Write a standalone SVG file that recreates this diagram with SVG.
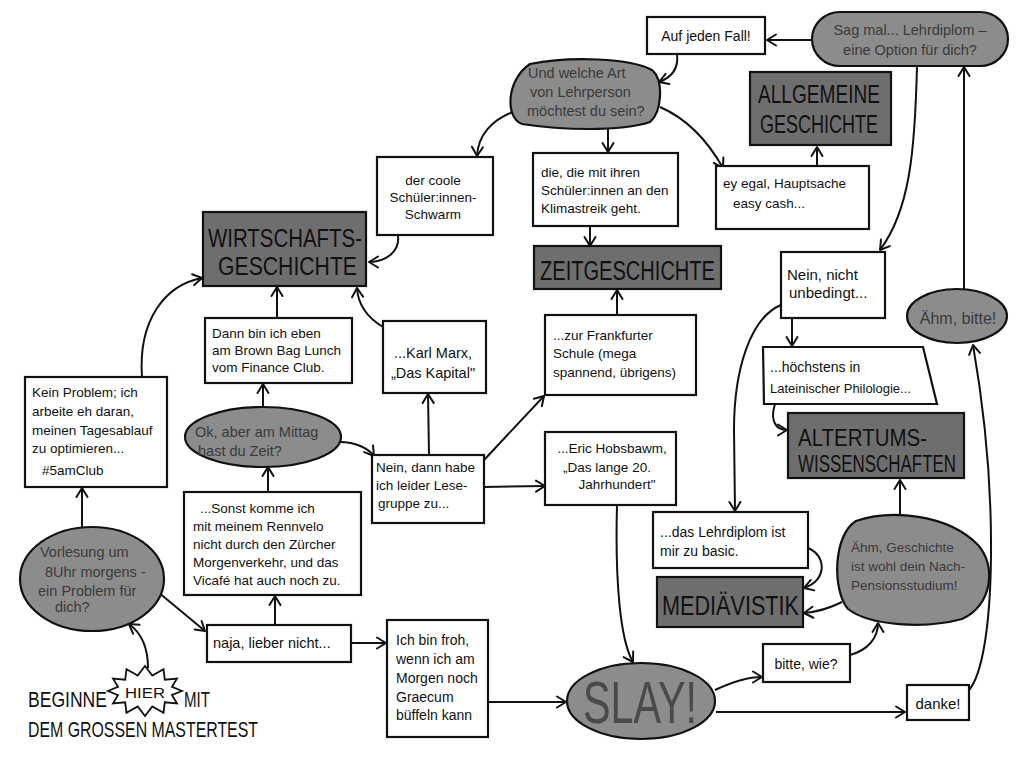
<svg xmlns="http://www.w3.org/2000/svg" width="1024" height="768" viewBox="0 0 1024 768">
<defs>
<marker id="arr" viewBox="-11 -7 13 14" refX="0" refY="0" markerWidth="13" markerHeight="14" markerUnits="userSpaceOnUse" orient="auto">
<path d="M-9,-5.5 L0,0 L-9,5.5" fill="none" stroke="#111" stroke-width="2" stroke-linecap="round" stroke-linejoin="round"/>
</marker>
<style>
.box{fill:#fff;stroke:#111;stroke-width:2.2}
.dark{fill:#6e6e6e;stroke:#111;stroke-width:2.2}
.blob{fill:#8c8c8c;stroke:#111;stroke-width:2.2}
.t{font-family:"Liberation Sans",Arial,sans-serif;font-size:13.5px;fill:#111}
.bt{font-family:"Liberation Sans",Arial,sans-serif;font-size:14.5px;fill:#3a3a3a}
.h{font-family:"Liberation Sans",Arial,sans-serif;fill:#111}
.c{text-anchor:middle}
.e{fill:none;stroke:#111;stroke-width:2;marker-end:url(#arr)}
</style>
</defs>
<rect width="1024" height="768" fill="#fff"/>

<g id="connectors">
<path class="e" d="M812,40 L767,40"/>
<path class="e" d="M677,54 C679,70 670,78 659,82"/>
<path class="e" d="M513,112 C492,120 478,135 477,156"/>
<path class="e" d="M608,128 L608,152"/>
<path class="e" d="M660,107 C690,120 710,145 723,168"/>
<path class="e" d="M817,166 L817,147"/>
<path class="e" d="M398,236 C400,252 385,262 369,262"/>
<path class="e" d="M590,226 L590,246"/>
<path class="e" d="M917,66 C915,150 910,210 880,250"/>
<path class="e" d="M792,318 L792,346"/>
<path class="e" d="M781,305 C750,318 734,370 734,430 L735,511"/>
<path class="e" d="M775,404 C770,420 775,430 787,430"/>
<path class="e" d="M900,515 L900,480"/>
<path class="e" d="M808,548 C826,555 828,580 804,588"/>
<path class="e" d="M842,602 C830,608 816,612 804,613"/>
<path class="e" d="M850,655 C868,650 878,638 878,623"/>
<path class="e" d="M715,690 C730,683 745,677 762,677"/>
<path class="e" d="M716,712 L905,712"/>
<path class="e" d="M969,690 C995,660 1000,500 973,345"/>
<path class="e" d="M964,290 L964,67"/>
<path class="e" d="M617,505 C615,580 620,640 633,662"/>
<path class="e" d="M617,315 L617,290"/>
<path class="e" d="M484,460 L544,396"/>
<path class="e" d="M484,487 L545,486"/>
<path class="e" d="M429,455 L428,394"/>
<path class="e" d="M383,327 C368,318 358,305 357,288"/>
<path class="e" d="M277,318 L277,287"/>
<path class="e" d="M263,407 L263,384"/>
<path class="e" d="M340,442 C355,442 368,448 374,456"/>
<path class="e" d="M268,492 L268,467"/>
<path class="e" d="M275,625 L275,596"/>
<path class="e" d="M351,643 L386,643"/>
<path class="e" d="M158,592 L205,631"/>
<path class="e" d="M82,527 L82,488"/>
<path class="e" d="M142,377 C138,320 165,285 202,278"/>
<path class="e" d="M488,702 L566,702"/>
<path class="e" d="M148,668 C148,645 140,632 129,624"/>
</g>

<g id="n-sagmal">
<rect class="blob" x="812" y="12" width="196" height="54" rx="28" ry="27"/>
<text class="bt c" x="910" y="35">Sag mal... Lehrdiplom –</text>
<text class="bt c" x="910" y="55">eine Option für dich?</text>
</g>
<g id="n-aufjeden">
<rect class="box" x="647" y="17" width="118" height="37"/>
<text class="t c" x="706" y="41" style="font-size:14px">Auf jeden Fall!</text>
</g>
<g id="n-undwelche">
<path class="blob" d="M530,64 C570,56 630,58 652,70 C664,80 662,112 650,122 C620,132 560,130 522,124 C505,118 506,80 530,64 Z"/>
<text class="bt" x="528" y="78">Und welche Art</text>
<text class="bt" x="530" y="97">von Lehrperson</text>
<text class="bt" x="527" y="116">möchtest du sein?</text>
</g>
<g id="n-allgemeine">
<rect class="dark" x="750" y="72" width="141" height="73"/>
<text class="h" x="758" y="103" style="font-size:25px" textLength="122" lengthAdjust="spacingAndGlyphs">ALLGEMEINE</text>
<text class="h" x="760" y="133" style="font-size:25px" textLength="118" lengthAdjust="spacingAndGlyphs">GESCHICHTE</text>
</g>
<g id="n-eyegal">
<rect class="box" x="716" y="166" width="153" height="63"/>
<text class="t" x="723" y="188">ey egal, Hauptsache</text>
<text class="t" x="733" y="208">easy cash...</text>
</g>
<g id="n-dercoole">
<rect class="box" x="377" y="157" width="116" height="78"/>
<text class="t c" x="433" y="185">der coole</text>
<text class="t c" x="433" y="202">Schüler:innen-</text>
<text class="t c" x="433" y="219">Schwarm</text>
</g>
<g id="n-diedie">
<rect class="box" x="533" y="153" width="145" height="73"/>
<text class="t" x="541" y="177">die, die mit ihren</text>
<text class="t" x="541" y="195">Schüler:innen an den</text>
<text class="t" x="541" y="213">Klimastreik geht.</text>
</g>
<g id="n-wirtschaft">
<rect class="dark" x="203" y="212" width="163" height="74"/>
<text class="h" x="208" y="247" style="font-size:25px" textLength="154" lengthAdjust="spacingAndGlyphs">WIRTSCHAFTS-</text>
<text class="h" x="218" y="275" style="font-size:25px" textLength="139" lengthAdjust="spacingAndGlyphs">GESCHICHTE</text>
</g>
<g id="n-zeit">
<rect class="dark" x="534" y="246" width="187" height="43"/>
<text class="h" x="540" y="280" style="font-size:27px" textLength="175" lengthAdjust="spacingAndGlyphs">ZEITGESCHICHTE</text>
</g>
<g id="n-neinnicht">
<rect class="box" x="781" y="252" width="104" height="66"/>
<text class="t" x="787" y="280" style="font-size:15px">Nein, nicht</text>
<text class="t" x="789" y="298" style="font-size:15px">unbedingt...</text>
</g>
<g id="n-aehmbitte">
<ellipse class="blob" cx="957" cy="316" rx="50" ry="27"/>
<text class="bt c" x="958" y="324" style="font-size:16px">Ähm, bitte!</text>
</g>
<g id="n-dannbin">
<rect class="box" x="205" y="318" width="147" height="65"/>
<text class="t" x="212" y="338">Dann bin ich eben</text>
<text class="t" x="212" y="355">am Brown Bag Lunch</text>
<text class="t" x="212" y="372">vom Finance Club.</text>
</g>
<g id="n-karlmarx">
<rect class="box" x="383" y="321" width="103" height="72"/>
<text class="t c" x="433" y="358" style="font-size:14.5px">...Karl Marx,</text>
<text class="t c" x="433" y="378" style="font-size:14.5px">„Das Kapital"</text>
</g>
<g id="n-frankfurt">
<rect class="box" x="545" y="315" width="151" height="80"/>
<text class="t" x="553" y="340">...zur Frankfurter</text>
<text class="t" x="553" y="358">Schule (mega</text>
<text class="t" x="553" y="377">spannend, übrigens)</text>
</g>
<g id="n-hoechstens">
<polygon class="box" points="763,347 923,347 937,404 764,404"/>
<text class="t" x="770" y="372" style="font-size:14px">...höchstens in</text>
<text class="t" x="770" y="393" style="font-size:13px">Lateinischer Philologie...</text>
</g>
<g id="n-keinproblem">
<rect class="box" x="25" y="377" width="142" height="110"/>
<text class="t" x="32" y="397">Kein Problem; ich</text>
<text class="t" x="32" y="416">arbeite eh daran,</text>
<text class="t" x="32" y="435">meinen Tagesablauf</text>
<text class="t" x="32" y="453">zu optimieren...</text>
<text class="t" x="42" y="475">#5amClub</text>
</g>
<g id="n-okaber">
<ellipse class="blob" cx="263" cy="437" rx="78" ry="30"/>
<text class="bt" x="195" y="437" style="font-size:14.5px">Ok, aber am Mittag</text>
<text class="bt" x="198" y="456" style="font-size:14.5px">hast du Zeit?</text>
</g>
<g id="n-altertum">
<rect class="dark" x="788" y="413" width="176" height="65"/>
<text class="h" x="798" y="446" style="font-size:23px" textLength="129" lengthAdjust="spacingAndGlyphs">ALTERTUMS-</text>
<text class="h" x="798" y="472" style="font-size:23px" textLength="158" lengthAdjust="spacingAndGlyphs">WISSENSCHAFTEN</text>
</g>
<g id="n-neindann">
<rect class="box" x="372" y="455" width="112" height="68"/>
<text class="t" x="376" y="472">Nein, dann habe</text>
<text class="t" x="376" y="490">ich leider Lese-</text>
<text class="t" x="378" y="508">gruppe zu...</text>
</g>
<g id="n-eric">
<rect class="box" x="545" y="432" width="131" height="73"/>
<text class="t c" x="612" y="453">...Eric Hobsbawm,</text>
<text class="t c" x="607" y="472">„Das lange 20.</text>
<text class="t c" x="617" y="489">Jahrhundert"</text>
</g>
<g id="n-sonst">
<rect class="box" x="184" y="492" width="177" height="103"/>
<text class="t" x="200" y="513">...Sonst komme ich</text>
<text class="t" x="193" y="531">mit meinem Rennvelo</text>
<text class="t" x="193" y="549">nicht durch den Zürcher</text>
<text class="t" x="193" y="567">Morgenverkehr, und das</text>
<text class="t" x="193" y="585">Vicafé hat auch noch zu.</text>
</g>
<g id="n-lehrdiplom">
<rect class="box" x="653" y="512" width="155" height="56"/>
<text class="t" x="660" y="537" style="font-size:14px">...das Lehrdiplom ist</text>
<text class="t" x="660" y="556" style="font-size:14px">mir zu basic.</text>
</g>
<g id="n-aehmgeschichte">
<path class="blob" d="M856,521 C890,509 948,514 978,545 C997,566 992,606 962,619 C925,629 870,626 848,609 C832,590 833,535 856,521 Z"/>
<text class="bt" x="851" y="552" style="font-size:13.5px">Ähm, Geschichte</text>
<text class="bt" x="851" y="571" style="font-size:13.5px">ist wohl dein Nach-</text>
<text class="bt" x="851" y="590" style="font-size:13.5px">Pensionsstudium!</text>
</g>
<g id="n-mediaevistik">
<rect class="dark" x="657" y="577" width="146" height="50"/>
<text class="h" x="662" y="615" style="font-size:28px" textLength="137" lengthAdjust="spacingAndGlyphs">MEDIÄVISTIK</text>
</g>
<g id="n-vorlesung">
<ellipse class="blob" cx="92" cy="579" rx="72" ry="52"/>
<text class="bt" x="40" y="557">Vorlesung um</text>
<text class="bt" x="45" y="577">8Uhr morgens -</text>
<text class="bt" x="38" y="596">ein Problem für</text>
<text class="bt" x="55" y="612">dich?</text>
</g>
<g id="n-naja">
<rect class="box" x="207" y="625" width="144" height="37"/>
<text class="t" x="213" y="648" style="font-size:14.5px">naja, lieber nicht...</text>
</g>
<g id="n-froh">
<rect class="box" x="387" y="620" width="101" height="117"/>
<text class="t" x="396" y="645" style="font-size:14px">Ich bin froh,</text>
<text class="t" x="396" y="664" style="font-size:14px">wenn ich am</text>
<text class="t" x="396" y="683" style="font-size:14px">Morgen noch</text>
<text class="t" x="396" y="702" style="font-size:14px">Graecum</text>
<text class="t" x="396" y="720" style="font-size:14px">büffeln kann</text>
</g>
<g id="n-slay">
<ellipse class="blob" cx="641" cy="701" rx="74" ry="38"/>
<text class="h" x="583" y="723" style="font-size:60px;fill:#4a4a4a" textLength="114" lengthAdjust="spacingAndGlyphs">SLAY!</text>
</g>
<g id="n-bittewie">
<rect class="box" x="763" y="644" width="87" height="38"/>
<text class="t c" x="806" y="669" style="font-size:14px">bitte, wie?</text>
</g>
<g id="n-danke">
<rect class="box" x="907" y="685" width="62" height="35"/>
<text class="t c" x="938" y="709" style="font-size:15px">danke!</text>
</g>
<g id="n-start">
<polygon points="182,691 172,695 177,703.5 164.8,702.3 163.5,712.7 152.3,706.5 145,716 137.7,706.5 126.5,712.7 125.2,702.3 113,703.5 118,695.1 108,691 118,686.9 113,678.5 125.2,679.7 126.5,669.3 137.7,675.5 145,666 152.3,675.5 163.5,669.3 164.8,679.7 177,678.5 172,686.9" fill="#fff" stroke="#111" stroke-width="1.8" stroke-linejoin="miter"/>
<text class="h" x="28" y="707" style="font-size:22px" textLength="79" lengthAdjust="spacingAndGlyphs">BEGINNE</text>
<text class="h" x="125" y="698" style="font-size:15px" textLength="40" lengthAdjust="spacingAndGlyphs">HIER</text>
<text class="h" x="184" y="707" style="font-size:22px" textLength="26" lengthAdjust="spacingAndGlyphs">MIT</text>
<text class="h" x="28" y="737" style="font-size:22px" textLength="230" lengthAdjust="spacingAndGlyphs">DEM GROSSEN MASTERTEST</text>
</g>
</svg>
